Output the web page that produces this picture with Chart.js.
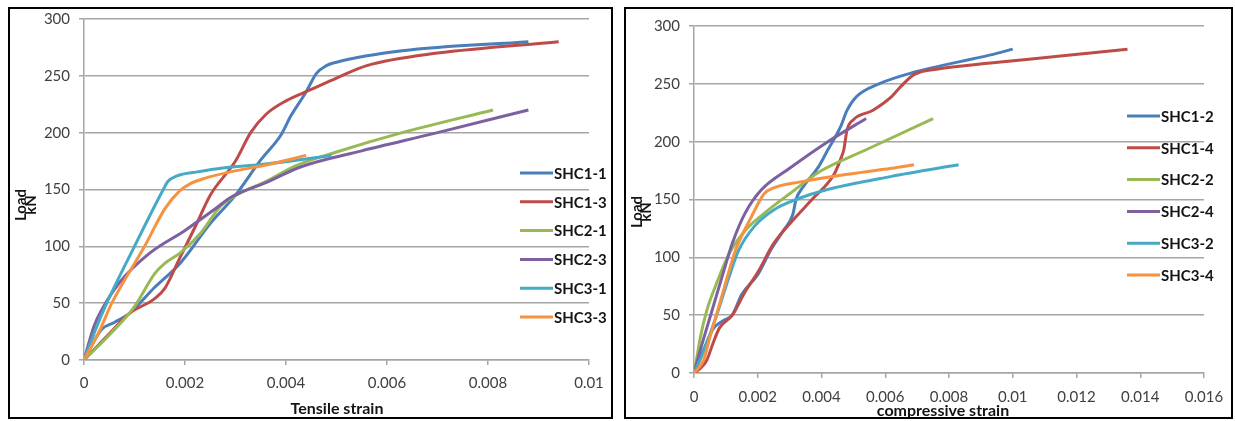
<!DOCTYPE html>
<html>
<head>
<meta charset="utf-8">
<script src="https://cdn.jsdelivr.net/npm/chart.js@4.4.0/dist/chart.umd.min.js"></script>
<style>
  body { margin: 0; background: #fff; width: 1235px; height: 421px; position: relative; overflow: hidden; }
  .panel { position: absolute; border: 2px solid #000; background: #fff; }
  #p1 { left: 8px; top: 7px; width: 601px; height: 408px; }
  #p2 { left: 624px; top: 7px; width: 605px; height: 408px; }
  canvas { display: block; }
</style>
</head>
<body>
<div class="panel" id="p1"><canvas id="tensile"></canvas></div>
<div class="panel" id="p2"><canvas id="compressive"></canvas></div>
<script>
// ---- tick labels ----
const loadTicks = [0, 50, 100, 150, 200, 250, 300];
const tensileTicks = [0, 0.002, 0.004, 0.006, 0.008, 0.01];
const compTicks = [0, 0.002, 0.004, 0.006, 0.008, 0.01, 0.012, 0.014, 0.016];

const colors = ['#4A7EBB', '#BE4B48', '#98B954', '#7D60A0', '#46AAC5', '#F69240'];

// ---- tensile strain (left) ----
const tensileLabels = ['SHC1-1', 'SHC1-3', 'SHC2-1', 'SHC2-3', 'SHC3-1', 'SHC3-3'];
const shc11x = [0, 0.00035, 0.0006, 0.0009, 0.0014, 0.0019, 0.0025, 0.003, 0.0035, 0.0039, 0.0041, 0.0044, 0.0046, 0.0048, 0.005, 0.0063, 0.0088];
const shc11y = [0, 27, 33, 41, 64, 85, 120, 145, 176, 198, 215, 236, 252, 259, 262, 272, 280];
const shc13x = [0, 0.0005, 0.0009, 0.0014, 0.0016, 0.0019, 0.0022, 0.0025, 0.003, 0.0033, 0.0036, 0.004, 0.0045, 0.005, 0.0056, 0.007, 0.0094];
const shc13y = [0, 23, 41, 54, 63, 90, 117, 145, 175, 200, 216, 228, 238, 248, 259, 270, 280];
const shc21x = [0, 0.0005, 0.001, 0.0014, 0.0016, 0.0019, 0.0023, 0.0027, 0.0031, 0.0036, 0.0042, 0.005, 0.0063, 0.0081];
const shc21y = [0, 22, 47, 76, 85, 94, 111, 135, 147, 157, 171, 183, 200, 220];
const shc23x = [0, 0.0002, 0.00035, 0.0007, 0.0013, 0.002, 0.0026, 0.0029, 0.0036, 0.0043, 0.0055, 0.007, 0.0088];
const shc23y = [0, 30, 44, 68, 94, 114, 133, 143, 156, 170, 184, 200, 220];
const shc31x = [0, 0.00025, 0.00045, 0.001, 0.00157, 0.00166, 0.00184, 0.00224, 0.00275, 0.0035, 0.00424, 0.0049];
const shc31y = [0, 29, 50, 100, 150, 157, 162, 165.5, 169, 172, 176, 180];
const shc33x = [0, 0.0003, 0.00055, 0.0012, 0.0016, 0.0019, 0.0021, 0.0024, 0.0029, 0.0036, 0.0044];
const shc33y = [0, 25, 50, 100, 133, 149, 155, 160, 165.5, 171.5, 180];

// ---- compressive strain (right) ----
const compLabels = ['SHC1-2', 'SHC1-4', 'SHC2-2', 'SHC2-4', 'SHC3-2', 'SHC3-4'];
const shc12x = [0, 0.0003, 0.0006, 0.0009, 0.0012, 0.0015, 0.002, 0.0024, 0.0028, 0.0031, 0.0032, 0.0034, 0.0039, 0.0042, 0.0046, 0.0048, 0.0051, 0.0058, 0.0069, 0.0093, 0.01];
const shc12y = [0, 20, 38, 45, 50, 68, 85, 106, 123, 137, 150, 160, 178, 193, 213, 227, 239, 250, 260, 275, 280];
const shc14x = [0, 0.0002, 0.0004, 0.0006, 0.0008, 0.0012, 0.0016, 0.002, 0.0025, 0.0032, 0.0037, 0.0044, 0.0046, 0.0047, 0.0048, 0.005, 0.0056, 0.0062, 0.0065, 0.0069, 0.0077, 0.0093, 0.0115, 0.0136];
const shc14y = [0, 4, 11, 26, 39, 50, 70, 87, 112, 135, 150, 172, 185, 193, 210, 219, 227, 239, 248, 258, 263, 268, 274, 280];
const shc22x = [0, 0.0001, 0.0002, 0.0004, 0.0007, 0.0011, 0.0016, 0.0022, 0.003, 0.004, 0.0054, 0.0075];
const shc22y = [0, 15, 31, 54, 77, 103, 123, 138, 155, 175, 193, 220];
const shc24x = [0, 0.0002, 0.0005, 0.0009, 0.0012, 0.0016, 0.0021, 0.003, 0.0042, 0.0054];
const shc24y = [0, 20, 48, 85, 112, 138, 158, 177, 200, 220];
const shc32x = [0, 0.0002, 0.0004, 0.0007, 0.0011, 0.0014, 0.0019, 0.0025, 0.0032, 0.0041, 0.0062, 0.0083];
const shc32y = [0, 12, 26, 49, 83, 106, 127, 141, 150, 158, 170, 180];
const shc34x = [0, 0.0003, 0.0005, 0.0009, 0.0013, 0.0018, 0.0022, 0.0025, 0.0033, 0.0046, 0.0062, 0.0069];
const shc34y = [0, 11, 31, 69, 106, 135, 155, 160, 165, 171, 177, 180];

function pts(xs, ys) {
  return xs.map((x, i) => ({ x: x, y: ys[i] }));
}

// legend, axis titles drawn on top of the chart
const decor = {
  id: 'decor',
  afterDraw(chart, args, o) {
    const ctx = chart.ctx;
    ctx.save();
    ctx.textBaseline = 'middle';
    chart.data.datasets.forEach((ds, i) => {
      const y = o.legendY + i * o.legendGap;
      ctx.strokeStyle = ds.borderColor;
      ctx.lineWidth = 3;
      ctx.beginPath();
      ctx.moveTo(o.legendX, y);
      ctx.lineTo(o.legendX + 33, y);
      ctx.stroke();
      ctx.fillStyle = '#141414';
      ctx.font = 'bold 15px Lato';
      ctx.textAlign = 'left';
      ctx.fillText(ds.label, o.legendX + 34, y + 1);
    });
    ctx.fillStyle = '#141414';
    ctx.font = 'bold 16px Lato';
    ctx.textAlign = 'center';
    ctx.fillText(o.xTitle, o.xTitleX, o.xTitleY);
    ctx.font = 'bold 15px Lato';
    ctx.translate(o.yTitleX, o.yTitleY);
    ctx.rotate(-Math.PI / 2);
    ctx.fillText('Load', 0, 0);
    ctx.fillText('kN', 0, o.yTitleGap);
    ctx.restore();
  }
};

function makeChart(id, labels, series, xTicks, xMax, c) {
  const n = series.length;
  const datasets = series.map((s, i) => ({
    label: labels[i],
    data: pts(s[0], s[1]),
    borderColor: colors[i],
    borderWidth: 3,
    pointRadius: 0,
    fill: false,
    cubicInterpolationMode: 'monotone',
    order: n - 1 - i,
  }));
  const gridCol = '#a6a6a6';
  const tickFont = { family: 'Lato', size: 15 };
  return new Chart(document.getElementById(id), {
    type: 'line',
    data: { datasets: datasets },
    options: {
      responsive: true,
      maintainAspectRatio: false,
      animation: false,
      layout: { padding: { top: c.top, right: c.right, left: 0, bottom: 0 } },
      plugins: {
        legend: { display: false },
        tooltip: { enabled: false },
        decor: c.decor,
      },
      scales: {
        x: {
          type: 'linear',
          min: 0,
          max: xMax,
          afterBuildTicks: s => { s.ticks = xTicks.map(v => ({ value: v })); },
          afterFit: s => { s.height = c.xH; s.paddingLeft = 0; s.paddingRight = 0; },
          grid: { drawOnChartArea: false, drawTicks: true, tickLength: 5, color: gridCol, lineWidth: 1.5 },
          border: { display: true, color: gridCol, width: 1.5 },
          ticks: { padding: c.xPad, color: '#404040', font: tickFont, maxRotation: 0, autoSkip: false,
                   callback: v => String(+v.toFixed(3)) },
        },
        y: {
          type: 'linear',
          min: 0,
          max: 300,
          afterBuildTicks: s => { s.ticks = loadTicks.map(v => ({ value: v })); },
          afterFit: s => { s.width = c.yW; s.paddingTop = 0; s.paddingBottom = 0; },
          grid: { color: gridCol, lineWidth: 1.5, tickLength: 5 },
          border: { display: true, color: gridCol, width: 1.5 },
          ticks: { padding: 9, color: '#404040', font: tickFont },
        },
      },
    },
    plugins: [decor],
  });
}

makeChart('tensile', tensileLabels,
  [[shc11x, shc11y], [shc13x, shc13y], [shc21x, shc21y], [shc23x, shc23y], [shc31x, shc31y], [shc33x, shc33y]],
  tensileTicks, 0.01,
  { top: 10, right: 22, yW: 74, xH: 57, xPad: 9,
    decor: { legendX: 510, legendY: 164, legendGap: 28.8,
             xTitle: 'Tensile strain', xTitleX: 327, xTitleY: 400,
             yTitleX: 11, yTitleY: 196, yTitleGap: 10 } });

makeChart('compressive', compLabels,
  [[shc12x, shc12y], [shc14x, shc14y], [shc22x, shc22y], [shc24x, shc24y], [shc32x, shc32y], [shc34x, shc34y]],
  compTicks, 0.016,
  { top: 17, right: 27, yW: 68, xH: 44, xPad: 10,
    decor: { legendX: 501, legendY: 107, legendGap: 31.8,
             xTitle: 'compressive strain', xTitleX: 317, xTitleY: 402,
             yTitleX: 11, yTitleY: 203, yTitleGap: 9 } });
</script>
</body>
</html>
